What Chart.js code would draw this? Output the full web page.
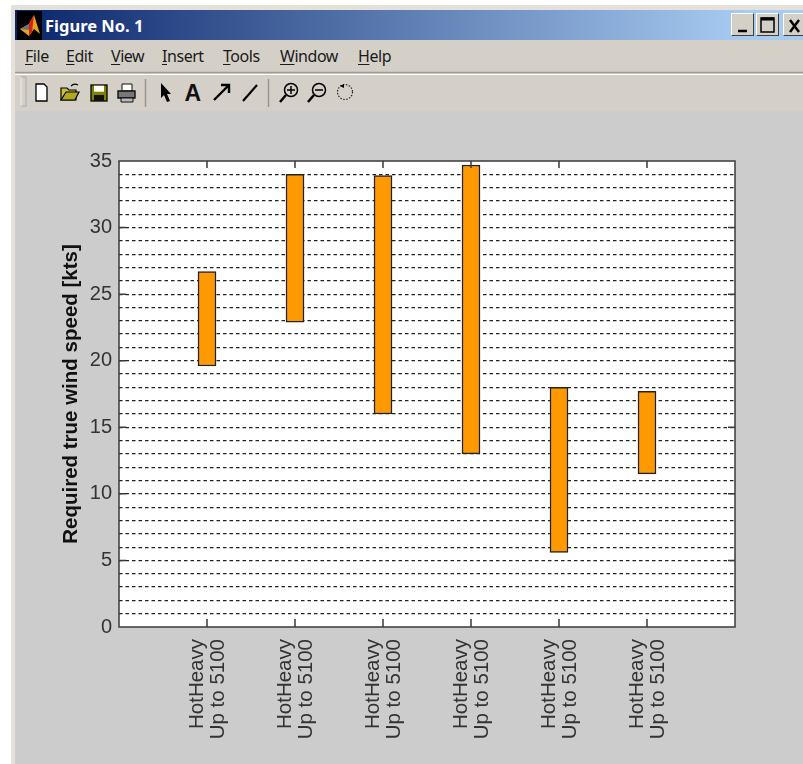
<!DOCTYPE html>
<html><head><meta charset="utf-8">
<script src="https://cdn.jsdelivr.net/npm/chart.js@4"></script>
<style>
html,body{margin:0;padding:0;background:#fff;width:803px;height:764px;overflow:hidden}
#frame{position:absolute;left:11px;top:5px;width:792px;height:759px;background:#e4e1da}
#title{position:absolute;left:15px;top:10px;width:788px;height:30px;background:linear-gradient(90deg,#0a246a 0%,#a6caf0 92%,#a6caf0 100%)}
#bars{position:absolute;left:15px;top:40px;width:788px;height:71px;background:#d4d0c8}
#fig{position:absolute;left:15px;top:111px;width:788px;height:653px;background:#cccccc}
.t{position:absolute;font-family:"Noto Sans",sans-serif;white-space:nowrap}
.m{font-size:16px;top:45px;color:#1a1a1a;letter-spacing:-.45px}
.m u{text-decoration-thickness:1px;text-underline-offset:2px}
.b{position:absolute;top:13px;width:23px;height:23px;background:#d4d0c8;border:1px solid;border-color:#fff #404040 #404040 #fff;box-sizing:border-box}
canvas{position:absolute;left:0;top:0}
svg{position:absolute;left:0;top:0}
</style></head><body>
<div id="frame"></div><div id="title"></div><div id="bars"></div><div id="fig"></div>
<div class="t" style="left:45px;top:14px;font-size:16.5px;font-weight:700;color:#fff">Figure No. 1</div>
<div class="t m" style="left:25px"><u>F</u>ile</div>
<div class="t m" style="left:66px"><u>E</u>dit</div>
<div class="t m" style="left:111px"><u>V</u>iew</div>
<div class="t m" style="left:162px"><u>I</u>nsert</div>
<div class="t m" style="left:223px"><u>T</u>ools</div>
<div class="t m" style="left:280px"><u>W</u>indow</div>
<div class="t m" style="left:358px"><u>H</u>elp</div>
<div class="b" style="left:731px"></div><div class="b" style="left:756px"></div><div class="b" style="left:783px;width:24px"></div>
<svg width="803" height="764" viewBox="0 0 803 764">
 <rect x="17" y="11" width="25" height="29" fill="#000"/>
 <path d="M20 29 L29 24 L34 15 L40 34 L34 29 L29 36 Z" fill="#e8a020"/>
 <path d="M29 24 L34 15 L32 32 L29 36 Z" fill="#d82010"/>
 <path d="M20 29 L29 24 L29 30 Z" fill="#607878"/>
 <path d="M738 31h9" stroke="#000" stroke-width="2.5"/>
 <rect x="761" y="18" width="13" height="14" fill="none" stroke="#000" stroke-width="1.5"/><path d="M761 19h13" stroke="#000" stroke-width="3"/>
 <path d="M790 20l9 12M799 20l-9 12" stroke="#000" stroke-width="2.5"/>
 <path d="M15 72.5h788" stroke="#a09c94" stroke-width="1.5"/><path d="M15 74.5h788" stroke="#fff" stroke-width="1"/>
 <rect x="21" y="77" width="5" height="29" fill="#d4d0c8" stroke="#aaa"/><path d="M21 77v29" stroke="#fff"/>
 <path d="M145.500 79v28M268.500 79v28" stroke="#9a968e" stroke-width="1.500"/>
 <path d="M36 84h8l3 3v14H36z" fill="#fff" stroke="#000" stroke-width="1.300"/>
 <path d="M61 100V88h6l2 2h7v10z" fill="#c8c040" stroke="#000" stroke-width="1.200"/><path d="M61 100l5-8h13l-4 8z" fill="#b0a820" stroke="#000" stroke-width="1.200"/><path d="M71 86q3-3 7-1" fill="none" stroke="#000" stroke-width="1.200"/>
 <rect x="91" y="85" width="16" height="16" fill="#808000" stroke="#000" stroke-width="1.300"/><rect x="94" y="85.700" width="10" height="6" fill="#fff"/><rect x="94" y="95" width="10" height="6" fill="#111"/>
 <path d="M122 84h10v7h-10z" fill="#fff" stroke="#111"/><path d="M118 91h17v7h-17z" fill="#777" stroke="#111" stroke-width="1.400"/><path d="M121 98h12v4h-12z" fill="#bbb" stroke="#111"/>
 <path d="M161 83v15l3-3 3 7 3-1-3-7h4z" fill="#000"/>
 <path d="M214 100L229 85M221 85h8v8" fill="none" stroke="#000" stroke-width="2.400"/>
 <path d="M243 101L257 85" stroke="#000" stroke-width="2.200"/>
 <circle cx="291" cy="90" r="6.500" fill="none" stroke="#000" stroke-width="1.500"/><path d="M286 95l-6 7" stroke="#000" stroke-width="2.500"/><path d="M287 90h8M291 86v8" stroke="#000" stroke-width="1.500"/>
 <circle cx="319" cy="90" r="6.500" fill="none" stroke="#000" stroke-width="1.500"/><path d="M314 95l-6 7" stroke="#000" stroke-width="2.500"/><path d="M315 90h8" stroke="#000" stroke-width="1.500"/>
 <circle cx="345" cy="92" r="7.500" fill="none" stroke="#222" stroke-width="1.200" stroke-dasharray="1.500 1.500"/><path d="M340 86l4-2v4z" fill="#000"/>
 <text x="184.500" y="101" font-family="Liberation Sans" font-weight="700" font-size="23" fill="#111">A</text>
</svg>
<canvas id="c" width="803" height="764"></canvas>
<script>
const categoryLabel = ['HotHeavy', 'Up to 5100'];
const categories = [categoryLabel, categoryLabel, categoryLabel, categoryLabel, categoryLabel, categoryLabel];
const lows  = [19.6, 22.9, 16.0, 13.0, 5.6, 11.5];
const highs = [26.7, 34.0, 33.9, 34.7, 18.0, 17.7];
const yLabelled = [0, 5, 10, 15, 20, 25, 30, 35];
const yTitle = 'Required true wind speed [kts]';

const frame = {
  id: 'frame',
  afterDatasetsDraw(chart) {
    const {ctx, chartArea: a, scales: {x, y}} = chart;
    ctx.save();
    ctx.strokeStyle = '#3a3a3a';
    ctx.lineWidth = 1.5;
    ctx.beginPath();
    yLabelled.slice(1, -1).forEach(v => {
      const p = y.getPixelForValue(v);
      ctx.moveTo(a.left, p); ctx.lineTo(a.left + 7, p);
      ctx.moveTo(a.right, p); ctx.lineTo(a.right - 7, p);
    });
    categories.forEach((_, i) => {
      const p = x.getPixelForValue(i + 1);
      ctx.moveTo(p, a.top); ctx.lineTo(p, a.top + 7);
      ctx.moveTo(p, a.bottom); ctx.lineTo(p, a.bottom - 8);
    });
    ctx.stroke();
    ctx.strokeRect(a.left, a.top, a.right - a.left, a.bottom - a.top);
    ctx.restore();
  }
};
const plotBg = {
  id: 'plotBg',
  beforeDraw(chart) {
    const {ctx, chartArea: a} = chart;
    ctx.fillStyle = '#fff';
    ctx.fillRect(a.left, a.top, a.right - a.left, a.bottom - a.top);
  }
};

new Chart(document.getElementById('c'), {
  type: 'bar',
  data: {
    labels: ['', ...categories, ''],
    datasets: [{
      data: [null, ...lows.map((l, i) => [l, highs[i]]), null],
      backgroundColor: '#ff9900',
      borderColor: '#222',
      borderWidth: 1.5,
      borderSkipped: false,
      barThickness: 18
    }]
  },
  options: {
    responsive: false,
    animation: false,
    devicePixelRatio: 1,
    layout: {padding: {left: 0, right: 68, top: 161, bottom: 0}},
    plugins: {legend: {display: false}, tooltip: {enabled: false}},
    scales: {
      x: {
        offset: false,
        grid: {display: false},
        border: {display: false},
        afterFit(s) { s.height = 137; },
        ticks: {
          autoSkip: false, minRotation: 90, maxRotation: 90, padding: 4, labelOffset: -10,
          color: '#333',
          font: {family: '"Liberation Sans"', size: 20.5, lineHeight: 1.05}
        }
      },
      y: {
        min: 0, max: 35,
        afterFit(s) { s.width = 119; },
        grid: {
          drawTicks: false,
          color: c => (c.tick.value === 0 || c.tick.value === 35) ? 'transparent' : '#222',
          lineWidth: 1.2
        },
        border: {display: false, dash: [3.5, 3]},
        title: {
          display: true, text: yTitle, color: '#111', padding: {top: 59, bottom: 0},
          font: {family: '"Liberation Sans"', size: 20.5, weight: 'bold'}
        },
        ticks: {
          stepSize: 1, autoSkip: false, padding: 7, color: '#333',
          font: {family: '"Liberation Sans"', size: 20},
          callback: v => yLabelled.includes(v) ? String(v) : ''
        }
      }
    }
  },
  plugins: [plotBg, frame]
});
</script>
</body></html>
